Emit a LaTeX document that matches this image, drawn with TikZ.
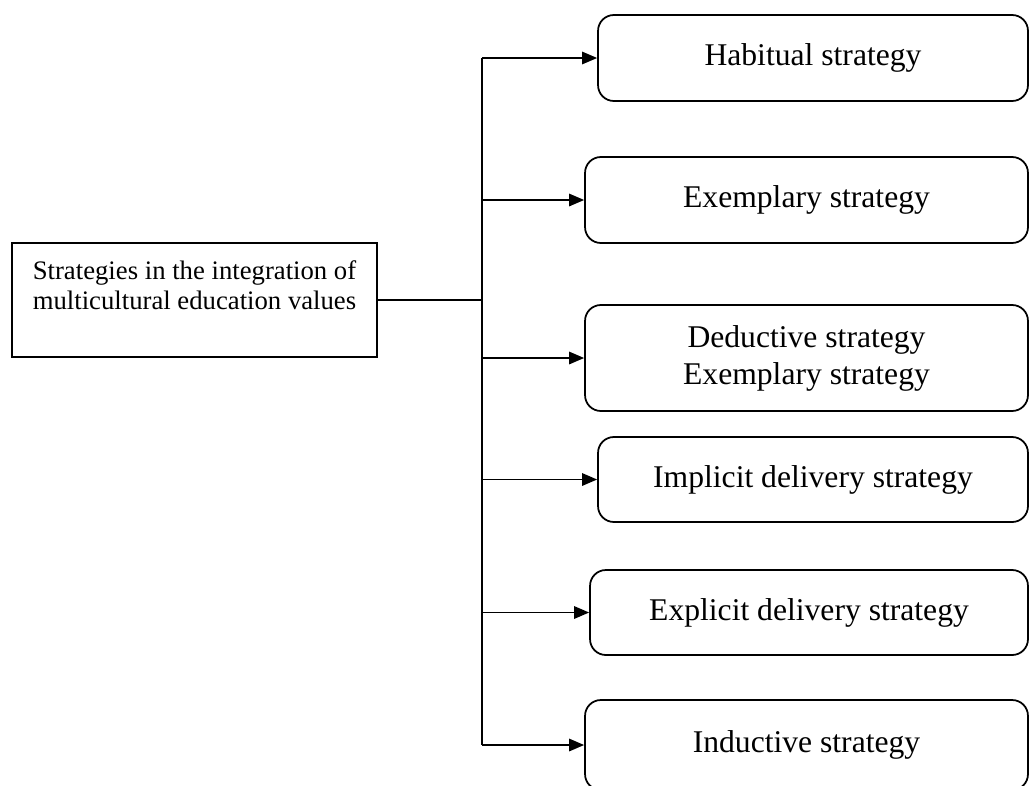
\documentclass[tikz,border=0pt]{standalone}
\usepackage{fontspec}
\setmainfont{Liberation Serif}
\usetikzlibrary{arrows.meta}

\begin{document}
\begin{tikzpicture}[x=0.02cm,y=-0.02cm,line width=1pt,>={Triangle[length=8.5pt,width=7pt]},
  stratbox/.style={draw,rounded corners=9pt,align=center,font=\fontsize{18}{21}\selectfont,
    text depth=0.12cm},
  mainbox/.style={draw,align=left,font=\fontsize{15.2}{17}\selectfont,
    minimum width=7.3cm,minimum height=2.28cm,text depth=0.6cm}]
  \useasboundingbox (0,0) rectangle (1030,785);
  \node[mainbox] (main) at (194.5,300)
    {Strategies in the integration of\\multicultural education values};
  \node[stratbox,minimum width=8.6cm,minimum height=1.72cm] (habitual) at (813,58)
    {Habitual strategy};
  \node[stratbox,minimum width=8.86cm,minimum height=1.72cm] (exemplary) at (806.5,200)
    {Exemplary strategy};
  \node[stratbox,minimum width=8.86cm,minimum height=2.12cm] (deductive) at (806.5,358)
    {Deductive strategy\\Exemplary strategy};
  \node[stratbox,minimum width=8.6cm,minimum height=1.7cm] (implicit) at (813,479.5)
    {Implicit delivery strategy};
  \node[stratbox,minimum width=8.76cm,minimum height=1.7cm] (explicit) at (809,612.5)
    {Explicit delivery strategy};
  \node[stratbox,minimum width=8.86cm,minimum height=1.8cm] (inductive) at (806.5,745)
    {Inductive strategy};
  \coordinate (trunk) at (482,303);
  \draw (main.east) -- (main.east -| trunk);
  \draw (trunk |- habitual.west) -- (trunk |- inductive.west);
  \foreach \b in {habitual,exemplary,deductive,implicit,explicit,inductive}
    \draw[->] (trunk |- \b.west) -- (\b.west);
\end{tikzpicture}
\end{document}
